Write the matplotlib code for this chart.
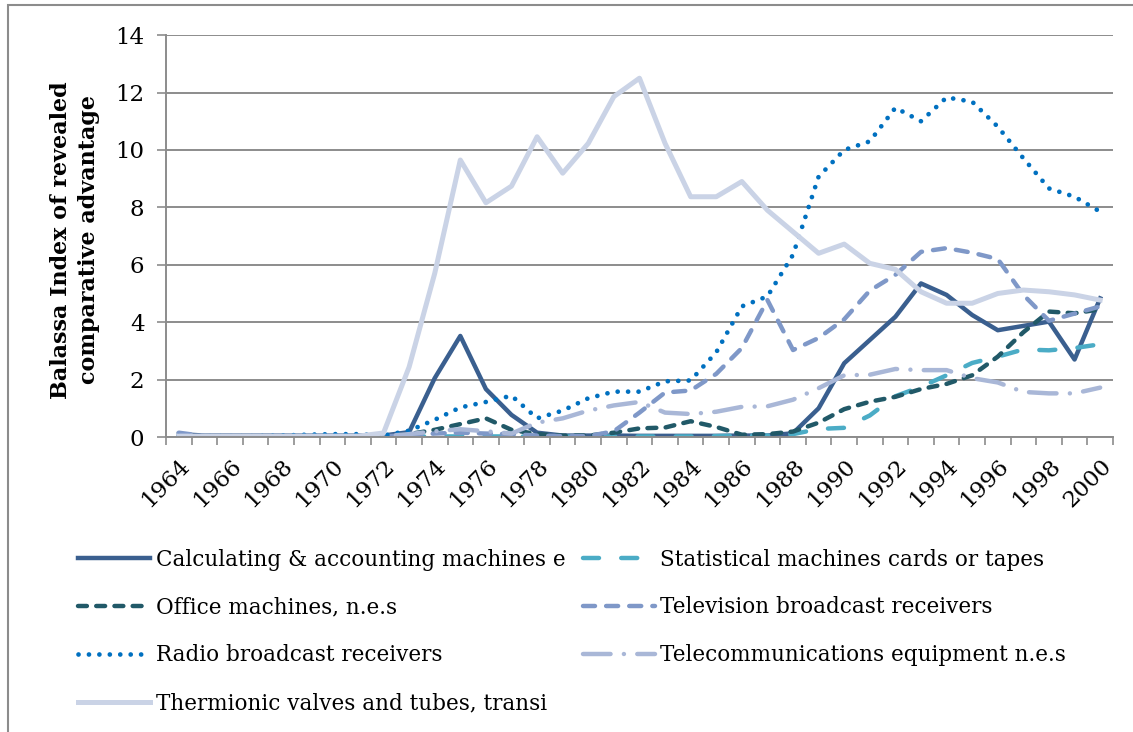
import numpy as np
import matplotlib
matplotlib.use("Agg")
import matplotlib.pyplot as plt
from matplotlib.patches import Rectangle

years = list(range(1964, 2001))

calculating = [0.10, 0.05, 0.05, 0.05, 0.05, 0.05, 0.05, 0.05, 0.05,
               0.17, 2.05, 3.52, 1.67, 0.77, 0.15,
               0.05, 0.05, 0.05, 0.04, 0.04, 0.04, 0.04, 0.05, 0.05,
               0.13, 1.00, 2.57, 3.38, 4.19, 5.35, 4.95, 4.25, 3.72, 3.87, 4.02, 2.70, 4.83]
statistical = [0.03, 0.02, 0.02, 0.02, 0.02, 0.02, 0.02, 0.02, 0.02,
               0.02, 0.02, 0.02, 0.02, 0.02, 0.02,
               0.02, 0.02, 0.02, 0.02, 0.02, 0.02, 0.03, 0.05, 0.05,
               0.10, 0.28, 0.32, 0.75, 1.42, 1.75, 2.15, 2.58, 2.80, 3.05, 3.02, 3.10, 3.23]
office = [0.02, 0.02, 0.02, 0.02, 0.02, 0.02, 0.02, 0.02, 0.02,
          0.10, 0.25, 0.45, 0.65, 0.25, 0.10,
          0.05, 0.05, 0.15, 0.30, 0.33, 0.55, 0.35, 0.08, 0.10,
          0.19, 0.50, 0.97, 1.23, 1.40, 1.67, 1.85, 2.15, 2.80, 3.65, 4.37, 4.31, 4.45]
television = [0.15, 0.03, 0.03, 0.03, 0.03, 0.03, 0.03, 0.03, 0.03,
              0.05, 0.12, 0.15, 0.12, 0.10, 0.05,
              0.03, 0.03, 0.20, 0.85, 1.55, 1.62, 2.20, 3.10, 4.77,
              3.03, 3.45, 4.10, 5.10, 5.65, 6.45, 6.58, 6.42, 6.20, 4.95, 4.05, 4.30, 4.55]
radio = [0.03, 0.03, 0.03, 0.03, 0.05, 0.08, 0.10, 0.10, 0.05,
         0.22, 0.60, 1.03, 1.22, 1.44, 0.65,
         0.92, 1.35, 1.58, 1.58, 1.94, 1.97, 2.95, 4.55, 4.90,
         6.35, 9.07, 10.00, 10.30, 11.47, 11.00, 11.83, 11.68, 10.81, 9.71, 8.66, 8.37, 7.85]
telecom = [0.03, 0.03, 0.03, 0.03, 0.03, 0.03, 0.03, 0.03, 0.03,
           0.10, 0.20, 0.27, 0.20, 0.12, 0.50,
           0.65, 0.92, 1.10, 1.22, 0.85, 0.80, 0.88, 1.05, 1.07,
           1.30, 1.70, 2.15, 2.17, 2.37, 2.33, 2.33, 2.05, 1.90, 1.57, 1.52, 1.52, 1.72]
thermionic = [0.03, 0.03, 0.03, 0.03, 0.03, 0.03, 0.03, 0.03, 0.14,
              2.44, 5.70, 9.65, 8.16, 8.74, 10.46,
              9.19, 10.23, 11.86, 12.50, 10.23, 8.37, 8.37, 8.90, 7.90,
              7.15, 6.40, 6.72, 6.05, 5.84, 5.06, 4.66, 4.66, 5.00, 5.12, 5.06, 4.95, 4.77]

labels = ["Calculating & accounting machines e",
          "Statistical machines cards or tapes",
          "Office machines, n.e.s",
          "Television broadcast receivers",
          "Radio broadcast receivers",
          "Telecommunications equipment n.e.s",
          "Thermionic valves and tubes, transi"]

plt.rcParams['font.family'] = 'DejaVu Serif'

fig = plt.figure(figsize=(11.33, 7.32), dpi=100)
ax = fig.add_axes([0.1465, 0.403, 0.8358, 0.549])

lw = 3.2
lines = {}
lines['calc'], = ax.plot(years, calculating, color='#3A5F8F', lw=lw, label=labels[0],
                         solid_joinstyle='round')
lines['stat'], = ax.plot(years, statistical, color='#4BACC6', lw=lw, label=labels[1],
                         linestyle=(0, (3.6, 5.0)), dash_capstyle='round')
lines['office'], = ax.plot(years, office, color='#215968', lw=lw, label=labels[2],
                           linestyle=(0, (2.0, 2.1)), dash_capstyle='round')
lines['tv'], = ax.plot(years, television, color='#7F98C8', lw=lw, label=labels[3],
                       linestyle=(0, (2.7, 2.5)), dash_capstyle='round')
lines['radio'], = ax.plot(years, radio, color='#0070C0', lw=lw + 0.2, label=labels[4],
                          linestyle=(0, (0.01, 2.2)), dash_capstyle='round')
lines['tele'], = ax.plot(years, telecom, color='#A9B7D7', lw=lw, label=labels[5],
                         linestyle=(0, (6.2, 3.0, 0.01, 3.0)), dash_capstyle='round')
lines['therm'], = ax.plot(years, thermionic, color='#CAD3E6', lw=lw + 0.4, label=labels[6],
                          solid_joinstyle='round')

ax.set_xlim(1963.5, 2000.5)
ax.set_ylim(0, 14)
ax.set_yticks(range(0, 15, 2))
ax.set_xticks(range(1964, 2001, 2))
ax.set_xticks(np.arange(1963.5, 2001, 1), minor=True)
ax.set_xticklabels([str(y) for y in range(1964, 2001, 2)], rotation=45,
                   ha='right', va='top', rotation_mode='anchor')
ax.tick_params(axis='x', which='major', length=0, labelsize=16.5, pad=13)
ax.tick_params(axis='x', which='minor', length=6, color='#8C8C8C', width=1.2, direction='out')
ax.tick_params(axis='y', length=6.5, color='#8C8C8C', width=1.2, labelsize=16.5, pad=9)

ax.grid(axis='y', color='#8C8C8C', lw=1.4)
ax.set_axisbelow(True)
for s in ['top', 'right']:
    ax.spines[s].set_visible(False)
for s in ['left', 'bottom']:
    ax.spines[s].set_color('#8C8C8C')
    ax.spines[s].set_linewidth(1.4)

fig.text(75 / 1133, 1 - 240 / 732, "Balassa Index of revealed\ncomparative advantage",
         rotation=90, ha='center', va='center', fontsize=16, fontweight='bold',
         linespacing=1.3, multialignment='center')

order = ['calc', 'office', 'radio', 'therm', 'stat', 'tv', 'tele']
handles = [lines[k] for k in order]
fig.legend(handles, [h.get_label() for h in handles], loc='upper left',
           bbox_to_anchor=(0.052, 0.277), ncol=2, frameon=False, fontsize=15.5,
           handlelength=3.35, handletextpad=0.25, labelspacing=1.2, columnspacing=0.8)

fig.patches.append(Rectangle((8 / 1133, -0.05), 1.2, 1.05 - 5 / 732, transform=fig.transFigure,
                             fill=False, edgecolor='#8C8C8C', lw=1.5))

fig.savefig('out.png', dpi=100)
